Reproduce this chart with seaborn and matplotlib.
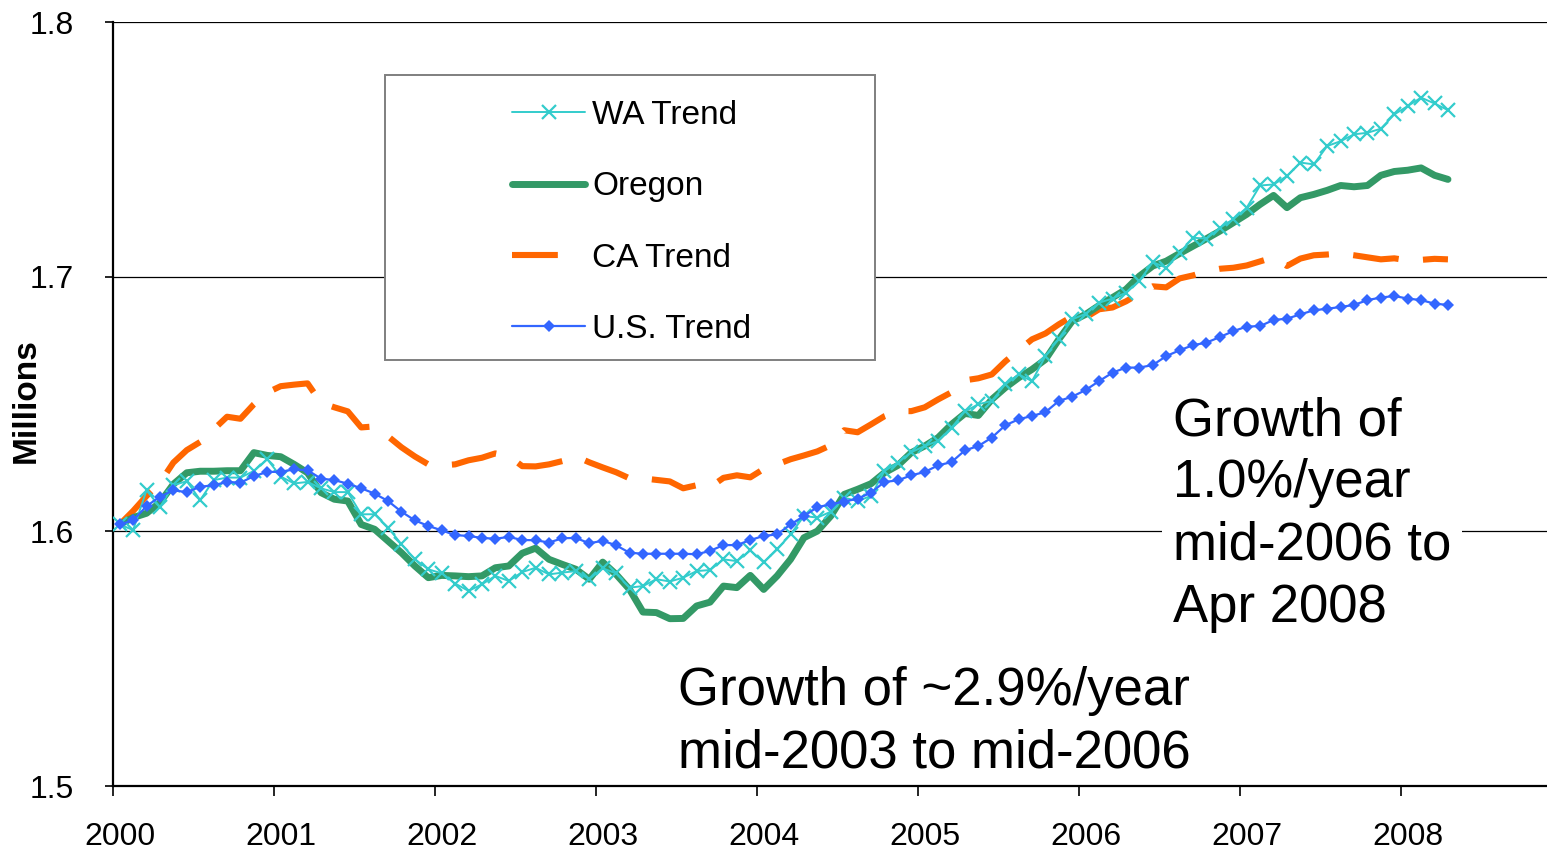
import numpy as np
import matplotlib
matplotlib.use("Agg")
import matplotlib.pyplot as plt
from matplotlib.patches import Rectangle
import seaborn as sns

# ----------------------------------------------------------
# Data : monthly trend, Jan 2000 .. Apr 2008 (millions)
# ----------------------------------------------------------

wa_trend = [
    1.6027, 1.6005, 1.6161, 1.6095, 1.6181, 1.6197, 1.6123, 1.6201, 1.6211, 1.6211,
    1.6237, 1.6283, 1.6215, 1.6188, 1.6194, 1.6169, 1.6154, 1.6154, 1.6067, 1.6067,
    1.6015, 1.5949, 1.5890, 1.5851, 1.5835, 1.5795, 1.5766, 1.5792, 1.5825, 1.5805,
    1.5840, 1.5857, 1.5831, 1.5838, 1.5844, 1.5812, 1.5855, 1.5835, 1.5779, 1.5785,
    1.5812, 1.5803, 1.5818, 1.5844, 1.5848, 1.5890, 1.5883, 1.5925, 1.5878, 1.5929,
    1.5988, 1.6060, 1.6054, 1.6077, 1.6132, 1.6119, 1.6139, 1.6237, 1.6270, 1.6311,
    1.6335, 1.6355, 1.6407, 1.6471, 1.6499, 1.6512, 1.6577, 1.6616, 1.6590, 1.6688,
    1.6757, 1.6832, 1.6855, 1.6898, 1.6914, 1.6937, 1.6983, 1.7057, 1.7035, 1.7094,
    1.7153, 1.7149, 1.7192, 1.7225, 1.7271, 1.7358, 1.7362, 1.7395, 1.7448, 1.7441,
    1.7513, 1.7532, 1.7559, 1.7565, 1.7581, 1.7637, 1.7670, 1.7703, 1.7680, 1.7654,
]

oregon = [
    1.6027, 1.6054, 1.6071, 1.6113, 1.6185, 1.6230, 1.6236, 1.6236, 1.6238, 1.6238,
    1.6309, 1.6298, 1.6293, 1.6263, 1.6230, 1.6152, 1.6126, 1.6119, 1.6027, 1.6008,
    1.5962, 1.5916, 1.5864, 1.5818, 1.5827, 1.5825, 1.5822, 1.5825, 1.5857, 1.5864,
    1.5914, 1.5934, 1.5890, 1.5870, 1.5851, 1.5812, 1.5879, 1.5831, 1.5772, 1.5683,
    1.5681, 1.5657, 1.5658, 1.5707, 1.5722, 1.5785, 1.5779, 1.5827, 1.5772, 1.5825,
    1.5890, 1.5975, 1.6001, 1.6060, 1.6145, 1.6165, 1.6187, 1.6230, 1.6259, 1.6309,
    1.6335, 1.6368, 1.6420, 1.6463, 1.6455, 1.6518, 1.6564, 1.6603, 1.6636, 1.6675,
    1.6754, 1.6826, 1.6852, 1.6887, 1.6918, 1.6950, 1.7002, 1.7042, 1.7061, 1.7091,
    1.7120, 1.7149, 1.7179, 1.7212, 1.7245, 1.7284, 1.7319, 1.7271, 1.7310, 1.7323,
    1.7339, 1.7358, 1.7353, 1.7358, 1.7398, 1.7413, 1.7418, 1.7427, 1.7398, 1.7382,
]

ca_trend = [
    1.6027, 1.6080, 1.6139, 1.6191, 1.6270, 1.6319, 1.6351, 1.6400, 1.6450, 1.6442,
    1.6499, 1.6545, 1.6570, 1.6576, 1.6581, 1.6505, 1.6487, 1.6471, 1.6408, 1.6412,
    1.6373, 1.6330, 1.6294, 1.6263, 1.6259, 1.6263, 1.6279, 1.6289, 1.6306, 1.6296,
    1.6256, 1.6255, 1.6263, 1.6276, 1.6294, 1.6271, 1.6251, 1.6232, 1.6208, 1.6208,
    1.6202, 1.6196, 1.6169, 1.6181, 1.6173, 1.6210, 1.6220, 1.6212, 1.6245, 1.6263,
    1.6283, 1.6298, 1.6314, 1.6338, 1.6397, 1.6389, 1.6420, 1.6452, 1.6472, 1.6472,
    1.6487, 1.6518, 1.6546, 1.6593, 1.6601, 1.6616, 1.6667, 1.6711, 1.6754, 1.6777,
    1.6813, 1.6844, 1.6840, 1.6872, 1.6879, 1.6903, 1.6934, 1.6962, 1.6958, 1.6993,
    1.7005, 1.7021, 1.7031, 1.7035, 1.7044, 1.7060, 1.7076, 1.7042, 1.7071, 1.7084,
    1.7087, 1.7091, 1.7084, 1.7076, 1.7068, 1.7072, 1.7064, 1.7066, 1.7070, 1.7068,
]

us_trend = [
    1.6027, 1.6043, 1.6099, 1.6136, 1.6161, 1.6154, 1.6175, 1.6181, 1.6194, 1.6191,
    1.6217, 1.6233, 1.6234, 1.6243, 1.6240, 1.6207, 1.6201, 1.6187, 1.6169, 1.6148,
    1.6119, 1.6077, 1.6043, 1.6021, 1.6004, 1.5985, 1.5982, 1.5974, 1.5971, 1.5978,
    1.5966, 1.5965, 1.5956, 1.5973, 1.5974, 1.5953, 1.5963, 1.5945, 1.5916, 1.5912,
    1.5912, 1.5912, 1.5912, 1.5910, 1.5923, 1.5946, 1.5946, 1.5966, 1.5982, 1.5988,
    1.6027, 1.6060, 1.6095, 1.6106, 1.6117, 1.6128, 1.6152, 1.6194, 1.6200, 1.6220,
    1.6233, 1.6259, 1.6272, 1.6318, 1.6335, 1.6368, 1.6416, 1.6440, 1.6453, 1.6468,
    1.6512, 1.6529, 1.6555, 1.6590, 1.6623, 1.6643, 1.6643, 1.6653, 1.6688, 1.6711,
    1.6731, 1.6741, 1.6763, 1.6786, 1.6804, 1.6806, 1.6830, 1.6835, 1.6852, 1.6868,
    1.6874, 1.6881, 1.6889, 1.6908, 1.6918, 1.6924, 1.6914, 1.6908, 1.6894, 1.6889,
]

years = [2000, 2001, 2002, 2003, 2004, 2005, 2006, 2007, 2008]
y_ticks = [1.5, 1.6, 1.7, 1.8]

# month centres on the category axis
months = np.arange(len(oregon))
x = years[0] + (months + 0.5) / 12

# ----------------------------------------------------------
# Style
# ----------------------------------------------------------

sns.set_theme(style="white")
plt.rcParams["font.family"] = ["Liberation Sans", "DejaVu Sans"]
plt.rcParams["text.color"] = "black"
plt.rcParams["axes.labelcolor"] = "black"
plt.rcParams["xtick.color"] = "black"
plt.rcParams["ytick.color"] = "black"

fig = plt.figure(figsize=(15.47, 8.5), dpi=100)
ax = fig.add_axes([113 / 1547, 64 / 850, 1434 / 1547, 764 / 850])

# ----------------------------------------------------------
# Lines
# ----------------------------------------------------------

sns.lineplot(x=x, y=ca_trend, ax=ax, color="#FF6600", linewidth=4.4,
             linestyle=(0, (7.5, 4)), label="CA Trend", errorbar=None, zorder=2)
sns.lineplot(x=x, y=oregon, ax=ax, color="#339966", linewidth=5.0,
             label="Oregon", errorbar=None, zorder=3, solid_capstyle="round")
sns.lineplot(x=x, y=wa_trend, ax=ax, color="#33CCCC", linewidth=1.4,
             marker="x", markersize=10.5, markeredgewidth=1.6,
             markeredgecolor="#33CCCC",
             label="WA Trend", errorbar=None, zorder=4)
sns.lineplot(x=x, y=us_trend, ax=ax, color="#3366FF", linewidth=1.6,
             marker="D", markersize=6.5, markeredgewidth=0,
             markeredgecolor="#3366FF", markerfacecolor="#3366FF",
             label="U.S. Trend", errorbar=None, zorder=5)

# ----------------------------------------------------------
# Axes
# ----------------------------------------------------------

ax.set_xlim(2000, 2000 + 1434 / 161)
ax.set_ylim(1.5, 1.8)

ax.set_yticks(y_ticks)
ax.set_yticklabels([f"{v:.1f}" for v in y_ticks])
ax.set_xticks(years)
ax.set_xticklabels([])
ax.set_xticks([yr + 0.5 / 12 for yr in years], minor=True)
ax.set_xticklabels([str(yr) for yr in years], minor=True)

ax.tick_params(axis="y", which="major", length=6, width=1.2, color="black",
               direction="out", labelsize=23, pad=22, left=True)
ax.tick_params(axis="x", which="major", length=7, width=1.2, color="black",
               direction="out", bottom=True)
ax.tick_params(axis="x", which="minor", length=0, labelsize=23, pad=26)

ax.grid(axis="y", color="black", linewidth=0.9)
ax.grid(axis="x", visible=False)
ax.set_axisbelow(True)

for side in ["top", "right"]:
    ax.spines[side].set_visible(False)
for side in ["left", "bottom"]:
    ax.spines[side].set_color("black")
    ax.spines[side].set_linewidth(1.6)

ax.set_xlabel("")
ax.set_ylabel("Millions", fontsize=24, fontweight="bold")
ax.yaxis.set_label_coords((42 - 113) / 1434, 0.504)

# ----------------------------------------------------------
# Legend
# ----------------------------------------------------------

frame = Rectangle((0.1897, 0.5576), 0.3417, 0.373, transform=ax.transAxes,
                  facecolor="white", edgecolor="#7f7f7f", linewidth=1.4,
                  zorder=6)
ax.add_patch(frame)

handles, labels = ax.get_legend_handles_labels()
order = ["WA Trend", "Oregon", "CA Trend", "U.S. Trend"]
lookup = dict(zip(labels, handles))
leg = ax.legend([lookup[k] for k in order], order,
                loc="upper left", bbox_to_anchor=(0.2782, 0.898),
                frameon=False, borderpad=0, borderaxespad=0,
                handlelength=2.2, handletextpad=0.2, labelspacing=1.21,
                fontsize=24)
leg.set_zorder(7)
# single dash for the CA key, as in the original
leg.get_lines()[2].set_dashes((7.5, 12))

# ----------------------------------------------------------
# Annotations
# ----------------------------------------------------------

ax.text(2000 + (1173 - 113) / 161, 1.6066,
        "Growth of\n1.0%/year\nmid-2006 to\nApr 2008",
        fontsize=38, ha="left", va="center", linespacing=1.31,
        bbox=dict(facecolor="white", edgecolor="none", pad=8), zorder=6)

ax.text(2000 + (678 - 113) / 161, 1.525,
        "Growth of ~2.9%/year\nmid-2003 to mid-2006",
        fontsize=38, ha="left", va="center", linespacing=1.34, zorder=6)

fig.savefig("out.png", dpi=100, facecolor="white")
plt.close(fig)
